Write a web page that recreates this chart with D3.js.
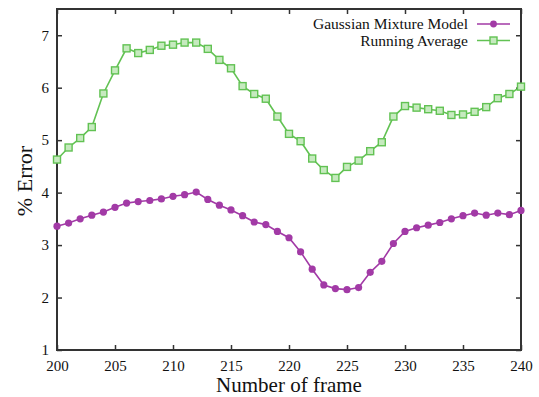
<!DOCTYPE html>
<html>
<head>
<meta charset="utf-8">
<script src="https://cdn.jsdelivr.net/npm/d3@7"></script>
</head>
<body style="margin:0;background:#fff">
<div id="chart"></div>
<script>
const frames = d3.range(200, 241);
const gmm = [3.36, 3.42, 3.50, 3.57, 3.63, 3.72, 3.80, 3.83, 3.85, 3.88,
  3.93, 3.96, 4.01, 3.87, 3.76, 3.67, 3.56, 3.44, 3.39, 3.26,
  3.14, 2.87, 2.54, 2.24, 2.17, 2.15, 2.19, 2.48, 2.69, 3.03,
  3.26, 3.33, 3.38, 3.43, 3.50, 3.56, 3.61, 3.57, 3.61, 3.58, 3.66];
const runAvg = [4.63, 4.86, 5.04, 5.25, 5.89, 6.33, 6.75, 6.66, 6.72, 6.80,
  6.82, 6.86, 6.86, 6.74, 6.53, 6.37, 6.03, 5.88, 5.79, 5.45,
  5.12, 4.98, 4.65, 4.43, 4.28, 4.49, 4.61, 4.79, 4.96, 5.45,
  5.65, 5.62, 5.59, 5.56, 5.48, 5.49, 5.54, 5.63, 5.80, 5.88, 6.02];
const xTicks = [200, 205, 210, 215, 220, 225, 230, 235, 240];
const yTicks = [1, 2, 3, 4, 5, 6, 7];
const seriesNames = ["Gaussian Mixture Model", "Running Average"];

const W = 539, H = 397;
const MARGIN = { top: 9, right: 18, bottom: 47, left: 57 };
const width = W - MARGIN.left - MARGIN.right;
const height = H - MARGIN.top - MARGIN.bottom;

const PURPLE = "#a23aa6";
const GREEN = "#62c253";
const GREEN_FILL = "#c6eabf";
const FONT = "Liberation Serif";

const svg = d3.select("#chart").append("svg")
  .attr("width", W).attr("height", H);
const g = svg.append("g").attr("transform", `translate(${MARGIN.left},${MARGIN.top})`);

const x = d3.scaleLinear().domain([200, 240]).range([0, width]);
const y = d3.scaleLinear().domain([1, 7.5]).range([height, 0]);

// axes, ticks pointing inward, mirrored on top/right
const styleAxis = (sel) => {
  sel.select(".domain").remove();
  sel.selectAll(".tick line").attr("stroke", "#333").attr("stroke-width", 1.5);
  sel.selectAll(".tick text").attr("fill", "#111").attr("font-size", 15);
};

g.append("g").attr("transform", `translate(0,${height})`)
  .call(d3.axisBottom(x).tickValues(xTicks).tickSizeInner(-5).tickSizeOuter(0).tickPadding(10).tickFormat(d3.format("d")))
  .call(styleAxis);
g.append("g")
  .call(d3.axisLeft(y).tickValues(yTicks).tickSizeInner(-5).tickSizeOuter(0).tickPadding(8).tickFormat(d3.format("d")))
  .call(styleAxis);
g.append("g")
  .call(d3.axisTop(x).tickValues(xTicks).tickSizeInner(-5).tickSizeOuter(0).tickFormat(""))
  .call(styleAxis);
g.append("g").attr("transform", `translate(${width},0)`)
  .call(d3.axisRight(y).tickValues(yTicks).tickSizeInner(-5).tickSizeOuter(0).tickFormat(""))
  .call(styleAxis);

g.append("rect")
  .attr("width", width).attr("height", height)
  .attr("fill", "none").attr("stroke", "#333").attr("stroke-width", 2);

// axis titles
svg.append("text")
  .attr("x", 289).attr("y", 392)
  .attr("text-anchor", "middle").attr("font-size", 21).attr("fill", "#111")
  .text("Number of frame");
svg.append("text")
  .attr("transform", "translate(32,181) rotate(-90)")
  .attr("text-anchor", "middle").attr("font-size", 22).attr("fill", "#111")
  .text("% Error");

const line = d3.line().x((d, i) => x(frames[i])).y((d) => y(d));

// running average
g.append("path").datum(runAvg)
  .attr("d", line).attr("fill", "none").attr("stroke", GREEN).attr("stroke-width", 1.6);
g.selectAll(".sq").data(runAvg).enter().append("rect")
  .attr("x", (d, i) => x(frames[i]) - 3.5)
  .attr("y", (d) => y(d) - 3.5)
  .attr("width", 7).attr("height", 7)
  .attr("fill", GREEN_FILL).attr("stroke", GREEN).attr("stroke-width", 1.4);

// gaussian mixture model
g.append("path").datum(gmm)
  .attr("d", line).attr("fill", "none").attr("stroke", PURPLE).attr("stroke-width", 1.6);
g.selectAll(".dot").data(gmm).enter().append("circle")
  .attr("cx", (d, i) => x(frames[i]))
  .attr("cy", (d) => y(d))
  .attr("r", 3.6)
  .attr("fill", PURPLE);

// legend
const legend = svg.append("g");
seriesNames.forEach((name, i) => {
  const ly = 24 + i * 16.5;
  legend.append("text")
    .attr("x", 468).attr("y", ly + 5)
    .attr("text-anchor", "end").attr("font-size", 15.5).attr("fill", "#111")
    .text(name);
  legend.append("line")
    .attr("x1", 477).attr("x2", 510).attr("y1", ly).attr("y2", ly)
    .attr("stroke", i === 0 ? PURPLE : GREEN).attr("stroke-width", 1.6);
  if (i === 0) {
    legend.append("circle").attr("cx", 493.5).attr("cy", ly).attr("r", 3.4).attr("fill", PURPLE);
  } else {
    legend.append("rect").attr("x", 490).attr("y", ly - 3.5).attr("width", 7).attr("height", 7)
      .attr("fill", GREEN_FILL).attr("stroke", GREEN).attr("stroke-width", 1.4);
  }
});

svg.selectAll("text").style("font-family", FONT);
</script>
</body>
</html>
